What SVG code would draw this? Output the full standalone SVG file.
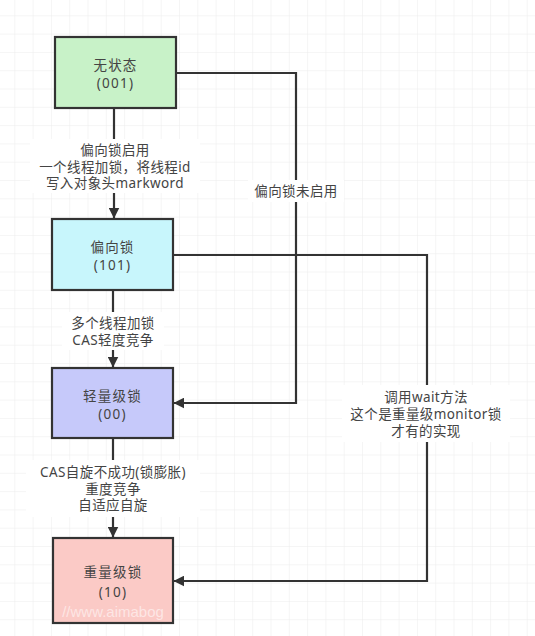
<svg xmlns="http://www.w3.org/2000/svg" width="535" height="636" viewBox="0 0 535 636">
<defs>
<pattern id="grid" width="18.3" height="18.3" patternUnits="userSpaceOnUse" x="-3" y="-2">
<path d="M18.3 0V18.3M0 18.3H18.3" fill="none" stroke="#ececec" stroke-width="1"/>
</pattern>
<marker id="arr" viewBox="0 0 10 10" refX="9.5" refY="5" markerWidth="5" markerHeight="5" orient="auto" markerUnits="strokeWidth">
<path d="M0 0L10 5L0 10Z" fill="#333"/>
</marker>
<style>
.box{stroke:#333;stroke-width:2.2}
.t{font-family:"Noto Sans","Noto Sans CJK SC",sans-serif;font-size:13.5px;letter-spacing:1.2px;fill:#444;text-anchor:middle}
.l{font-family:"Noto Sans","Noto Sans CJK SC",sans-serif;font-size:13.5px;letter-spacing:0.4px;fill:#444;text-anchor:middle}
.c{fill:none;stroke:#333;stroke-width:2.2}
.bg{fill:#ffffff}
</style>
</defs>
<rect width="535" height="636" fill="#ffffff"/>
<rect width="535" height="636" fill="url(#grid)"/>
<g id="connectors">
<path class="c" d="M114 108V218" marker-end="url(#arr)"/>
<path class="c" d="M113 290V367" marker-end="url(#arr)"/>
<path class="c" d="M113 438V537" marker-end="url(#arr)"/>
<path class="c" d="M176 73H296V403H174" marker-end="url(#arr)"/>
<path class="c" d="M173 255H427V581H174" marker-end="url(#arr)"/>
<g id="label-e1">
<rect class="bg" x="30" y="139" width="170" height="54"/>
<text class="l" x="115" y="155">偏向锁启用</text>
<text class="l" x="115" y="171.5">一个线程加锁，将线程id</text>
<text class="l" x="115" y="188">写入对象头markword</text>
</g>
<g id="label-e2">
<rect class="bg" x="62" y="312" width="102" height="38"/>
<text class="l" x="113" y="328">多个线程加锁</text>
<text class="l" x="113" y="344.5">CAS轻度竞争</text>
</g>
<g id="label-e3">
<rect class="bg" x="26" y="460" width="174" height="57"/>
<text class="l" x="113" y="477">CAS自旋不成功(锁膨胀)</text>
<text class="l" x="113" y="493.5">重度竞争</text>
<text class="l" x="113" y="510">自适应自旋</text>
</g>
<g id="label-e4">
<rect class="bg" x="248" y="180" width="96" height="22"/>
<text class="l" x="296" y="196">偏向锁未启用</text>
</g>
<g id="label-e5">
<rect class="bg" x="342" y="385" width="168" height="57"/>
<text class="l" x="426" y="402">调用wait方法</text>
<text class="l" x="426" y="419">这个是重量级monitor锁</text>
<text class="l" x="426" y="436">才有的实现</text>
</g>
</g>
<g id="node-none">
<rect class="box" x="55" y="37" width="121" height="71" fill="#c8f2c8"/>
<text class="t" x="115.5" y="70">无状态</text>
<text class="t" x="115.5" y="88">(001)</text>
</g>
<g id="node-biased">
<rect class="box" x="52" y="219" width="121" height="71" fill="#c8f6fc"/>
<text class="t" x="112.5" y="252">偏向锁</text>
<text class="t" x="112.5" y="270">(101)</text>
</g>
<g id="node-light">
<rect class="box" x="52" y="368" width="121" height="70" fill="#c6c9fa"/>
<text class="t" x="112.5" y="401">轻量级锁</text>
<text class="t" x="112.5" y="419">(00)</text>
</g>
<g id="node-heavy">
<rect class="box" x="53" y="538" width="120" height="85" fill="#fbcac6"/>
<text class="t" x="113" y="577">重量级锁</text>
<text class="t" x="113" y="597">(10)</text>
<text x="113" y="617" font-family="Liberation Sans, sans-serif" font-size="15" fill="#ffffff" fill-opacity="0.55" text-anchor="middle">//www.aimabog</text>
</g>
</svg>
